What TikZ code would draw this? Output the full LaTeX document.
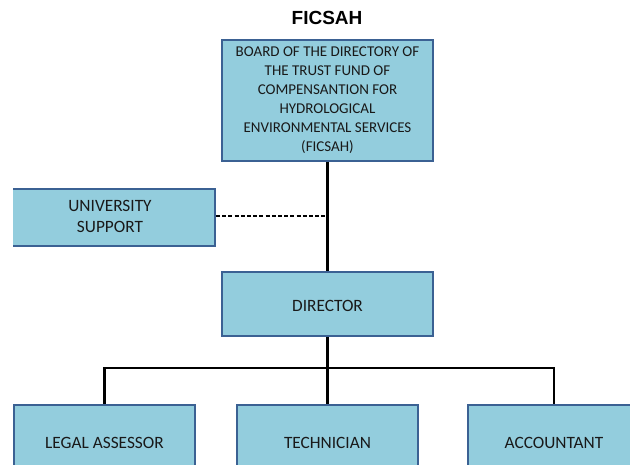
\documentclass[tikz,border=0pt]{standalone}
\usepackage{fontspec}
\setmainfont{Carlito}
\newfontfamily\titlefont{Liberation Sans}
\definecolor{boxfill}{HTML}{93CDDD}
\definecolor{boxline}{HTML}{3B6193}
\begin{document}
\begin{tikzpicture}[x=1pt,y=-1pt,
  unit/.style={draw=boxline, fill=boxfill, line width=2pt,
    inner sep=0pt, font=\fontsize{17.3}{21}\selectfont, text=black!90},
  link/.style={line width=2.2pt},
  aux/.style={line width=1.5pt, dash pattern=on 4pt off 2.2pt}]
\useasboundingbox (0,0) rectangle (630,465);
\clip (13,0) rectangle (630,465);

% title
\node[font=\titlefont\bfseries\fontsize{19}{22}\selectfont] (title) at (327,18) {FICSAH};

% boxes
\node[unit, align=center, minimum width=211, minimum height=121,
  font=\fontsize{15}{19}\selectfont] (board) at (327.5,100.5)
  {BOARD OF THE DIRECTORY OF\\THE TRUST FUND OF\\COMPENSANTION FOR\\HYDROLOGICAL\\ENVIRONMENTAL SERVICES\\(FICSAH)};
\node[unit, align=center, minimum width=210, minimum height=57,
  text depth=3pt] (univ) at (110,217.5) {UNIVERSITY\\SUPPORT};
\node[unit, minimum width=211, minimum height=64, text height=15.2pt, text depth=0pt] (director) at (327.5,304) {DIRECTOR};
\node[unit, minimum width=181, minimum height=74, text height=13pt, text depth=0pt] (legal) at (104.5,442) {LEGAL ASSESSOR};
\node[unit, minimum width=181, minimum height=74, text height=13pt, text depth=0pt] (tech) at (327.5,442) {TECHNICIAN};
\node[unit, minimum width=172, minimum height=74, text height=13pt, text depth=0pt] (acct) at (554,442) {ACCOUNTANT};

% connectors
\coordinate (bus) at (327.5,368);
\coordinate (support) at (327.5,216);
\draw[link] (board) -- (director);
\draw[aux] (univ.east |- support) -- (support);
\draw[link] (director.south) -- (bus);
\draw[link] (legal.north) |- (bus) -| (acct.north);
\draw[link] (bus) -- (tech.north);
\end{tikzpicture}
\end{document}
